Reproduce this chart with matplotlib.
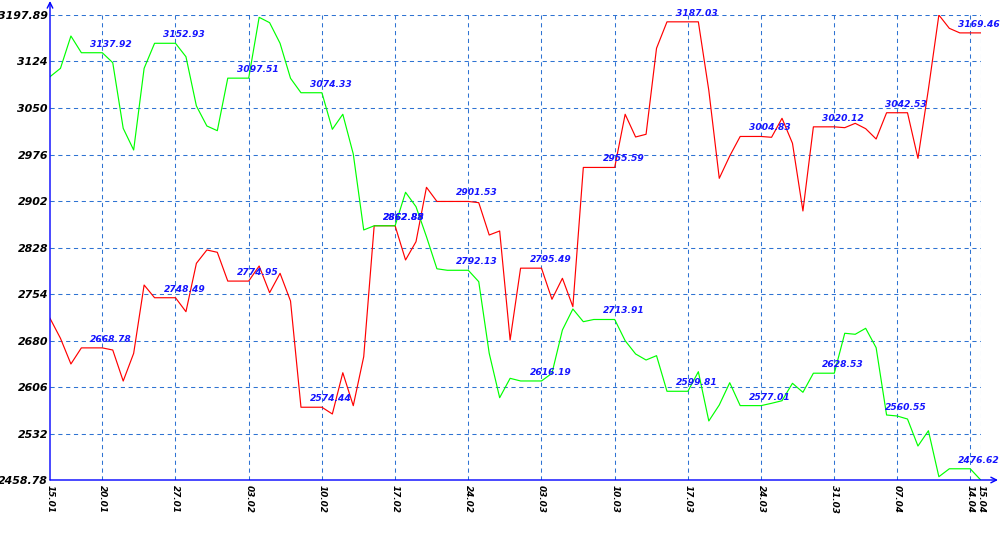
import matplotlib
matplotlib.use("Agg")
import matplotlib.pyplot as plt
import pandas as pd

# ---- data -------------------------------------------------------------
start_date = "2014-01-15"
end_date = "2014-04-15"
missing_dates = ["2014-04-06"]

red_values = [
    2715.8, 2684.0, 2643.2, 2668.78, 2668.78, 2668.78, 2665.4, 2616.1, 2660.1, 2768.7,
    2748.49, 2748.49, 2748.49, 2726.3, 2803.2, 2824.4, 2820.7, 2774.95, 2774.95, 2774.95,
    2798.9, 2756.5, 2787.3, 2743.3, 2574.44, 2574.44, 2574.44, 2563.7, 2629.3, 2576.9,
    2654.8, 2862.88, 2862.88, 2862.88, 2808.5, 2837.6, 2924.0, 2901.53, 2901.53, 2901.53,
    2901.53, 2899.6, 2848.2, 2854.6, 2681.3, 2795.49, 2795.49, 2795.49, 2746.0, 2779.4,
    2734.3, 2955.59, 2955.59, 2955.59, 2955.59, 3040.1, 3004.0, 3008.3, 3145.0, 3187.03,
    3187.03, 3187.03, 3187.03, 3078.0, 2938.3, 2973.8, 3004.83, 3004.83, 3004.83, 3003.5,
    3033.7, 2994.0, 2886.4, 3020.12, 3020.12, 3020.12, 3018.8, 3025.7, 3017.2, 3000.8,
    3042.53, 3042.53, 3042.53, 2970.0, 3080.0, 3197.89, 3176.7, 3169.46, 3169.46, 3169.46,
]

green_values = [
    3099.8, 3113.1, 3164.5, 3137.92, 3137.92, 3137.92, 3122.1, 3017.8, 2983.3, 3113.1,
    3152.93, 3152.93, 3152.93, 3131.6, 3053.3, 3021.5, 3014.0, 3097.51, 3097.51, 3097.51,
    3194.2, 3185.7, 3152.9, 3097.3, 3074.33, 3074.33, 3074.33, 3016.2, 3040.1, 2977.0,
    2856.2, 2862.85, 2862.85, 2862.85, 2916.1, 2893.2, 2845.5, 2794.5, 2792.13, 2792.13,
    2792.13, 2774.0, 2660.2, 2589.6, 2620.4, 2616.19, 2616.19, 2616.19, 2628.4, 2697.2,
    2730.6, 2710.4, 2713.91, 2713.91, 2713.91, 2680.2, 2659.1, 2649.5, 2656.4, 2599.81,
    2599.81, 2599.81, 2630.9, 2552.6, 2578.0, 2613.4, 2577.01, 2577.01, 2577.01, 2580.7,
    2584.8, 2612.5, 2598.2, 2628.53, 2628.53, 2628.53, 2692.0, 2690.4, 2699.9, 2669.1,
    2562.1, 2560.55, 2555.7, 2512.8, 2537.1, 2464.0, 2476.62, 2476.62, 2476.62, 2458.78,
]

y_ticks = [2458.78, 2532, 2606, 2680, 2754, 2828, 2902, 2976, 3050, 3124, 3197.89]
y_tick_labels = ["2458.78", "2532", "2606", "2680", "2754", "2828", "2902",
                 "2976", "3050", "3124", "3197.89"]

# ---- derived ----------------------------------------------------------
dates = pd.date_range(start_date, end_date, freq="D")
dates = dates[~dates.isin(pd.to_datetime(missing_dates))]
idx = list(range(len(dates)))

# ticks: first day, every Monday, last day
tick_idx = [i for i, d in enumerate(dates) if i == 0 or d.weekday() == 0 or i == len(dates) - 1]
tick_lbl = [dates[i].strftime("%d.%m") for i in tick_idx]
# annotated points: the Mondays
ann_idx = [i for i, d in enumerate(dates) if d.weekday() == 0 and i != 0]

# ---- figure -----------------------------------------------------------
W, H = 1000, 550
fig = plt.figure(figsize=(W / 100, H / 100), dpi=100)
left_px, right_px, top_px, bot_px = 50, 980.7, 15, 480
ax = fig.add_axes([left_px / W, (H - bot_px) / H, (right_px - left_px) / W, (bot_px - top_px) / H])

grid_color = "#2f73d2"
ax.plot(idx, red_values, color="#ff0000", lw=0.85, zorder=3)
ax.plot(idx, green_values, color="#00ff00", lw=0.85, zorder=3)

ax.set_xlim(0, len(idx) - 1)
ax.set_ylim(y_ticks[0], y_ticks[-1])

for s in ax.spines.values():
    s.set_visible(False)

# grid
for yv in y_ticks[1:]:
    ax.axhline(yv, color=grid_color, lw=0.75, ls=(0, (4, 3.5)), zorder=1)
for xi in tick_idx[1:]:
    ax.axvline(xi, color=grid_color, lw=0.75, ls=(0, (4, 3.5)), zorder=1)

ax.set_yticks(y_ticks)
ax.set_yticklabels(y_tick_labels)
ax.set_xticks(tick_idx)
ax.set_xticklabels(tick_lbl)
ax.tick_params(axis="y", length=0, pad=1.5)
ax.tick_params(axis="x", length=0, pad=3.5)
for t in ax.get_yticklabels():
    t.set_fontfamily("DejaVu Sans")
    t.set_fontweight("bold")
    t.set_fontstyle("oblique")
    t.set_fontsize(7.9)
    t.set_color("black")
for t in ax.get_xticklabels():
    t.set_fontfamily("DejaVu Sans")
    t.set_fontweight("bold")
    t.set_fontstyle("oblique")
    t.set_fontsize(6.4)
    t.set_rotation(270)
    t.set_ha("center")
    t.set_va("top")

# value annotations
for series in (red_values, green_values):
    for i in ann_idx:
        ax.annotate(f"{series[i]:.2f}", xy=(i, series[i]), xytext=(-12 * 0.72, 6 * 0.72),
                    textcoords="offset points", ha="left", va="baseline",
                    fontsize=6.6, fontweight="bold", fontstyle="oblique",
                    fontfamily="DejaVu Sans", color="#1515ff", zorder=5,
                    annotation_clip=False)

# axis lines with arrows
ax.annotate("", xy=(left_px, H - 1), xytext=(left_px, H - bot_px), xycoords="figure pixels",
            textcoords="figure pixels",
            arrowprops=dict(arrowstyle="->", color="#0000ff", lw=1.0, shrinkA=0, shrinkB=0))
ax.annotate("", xy=(998, H - bot_px), xytext=(left_px, H - bot_px), xycoords="figure pixels",
            textcoords="figure pixels",
            arrowprops=dict(arrowstyle="->", color="#0000ff", lw=1.0, shrinkA=0, shrinkB=0))

fig.savefig("out.png", dpi=100)
